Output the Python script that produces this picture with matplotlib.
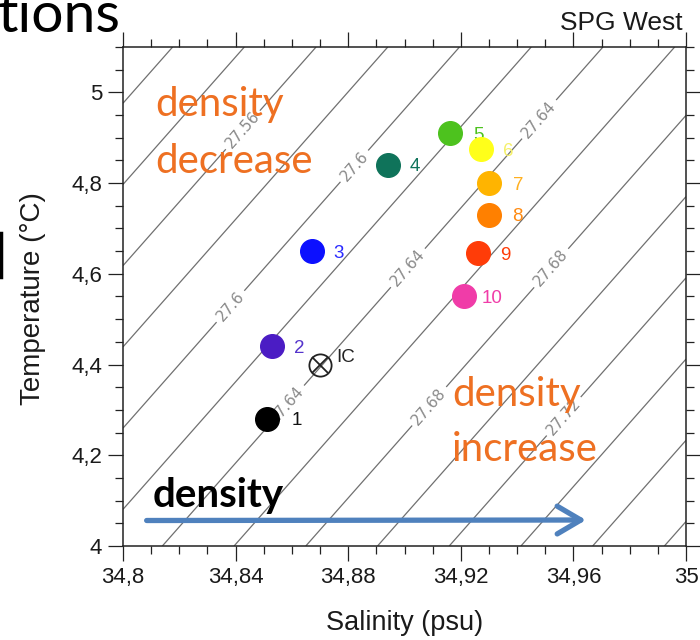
import matplotlib.pyplot as plt
import numpy as np
from matplotlib.ticker import MultipleLocator, FuncFormatter
from matplotlib.lines import Line2D

# station profiles: mean salinity / temperature
stations = ['1', '2', '3', '4', '5', '6', '7', '8', '9', '10']
salinity = [34.851, 34.853, 34.867, 34.894, 34.916, 34.927, 34.930, 34.930, 34.926, 34.921]
temperature = [4.28, 4.44, 4.65, 4.84, 4.91, 4.875, 4.80, 4.73, 4.645, 4.55]
colors = ['#000000', '#4b1cc4', '#0c10ff', '#0f735a', '#4dc21e',
          '#ffff1a', '#ffb400', '#ff8000', '#ff3c08', '#f03ca8']
label_colors = ['#111111', '#5534cc', '#2a2aff', '#0f735a', '#4dc21e',
                '#f5f06a', '#ffb020', '#ff8a10', '#ff3c08', '#f03ca8']

# initial condition
ic_sal, ic_temp = 34.870, 4.40

# isopycnals (sigma-theta), linearised around the section
iso_plain = [27.48, 27.50, 27.52, 27.54, 27.58, 27.62, 27.66, 27.70, 27.74, 27.76, 27.78]
iso_labelled = [27.56, 27.60, 27.64, 27.68, 27.72]
label_spots = [(34.8426, 4.917), (34.8380, 4.529), (34.8817, 4.840),
               (34.8583, 4.311), (34.9012, 4.613), (34.9481, 4.939),
               (34.9055, 4.326), (34.9517, 4.615), (34.9560, 4.289)]


def sigma(s, t):
    return 27.64 + 0.785 * (s - 34.9705) - 0.1117 * (t - 5.1)


def comma(v, pos):
    return f'{round(v, 3):g}'.replace('.', ',')


axfont = 'Liberation Sans'
slide_font = 'Lato'
orange = '#ee7022'

fig = plt.figure(figsize=(7, 6.4), dpi=100)
ax = fig.add_axes([123 / 700, 1 - 546 / 640, 563 / 700, 499 / 640])

ss, tt = np.meshgrid(np.linspace(34.8, 35.0, 201), np.linspace(4.0, 5.1, 201))
sig = sigma(ss, tt)
ax.contour(ss, tt, sig, levels=iso_plain, colors='#707070', linewidths=0.9, zorder=1)
cs = ax.contour(ss, tt, sig, levels=iso_labelled, colors='#707070',
                linewidths=0.9, zorder=1)
ax.clabel(cs, manual=label_spots, fmt=lambda v: f'{v:g}',
          fontsize=11, colors='#8a8a8a', inline=True, inline_spacing=4)

# label offsets in points (default 16)
offs = {'1': 18, '5': 17, '7': 17, '8': 17, '9': 16.5, '10': 13}
for i, (s, t, c, lc, name) in enumerate(zip(salinity, temperature, colors,
                                              label_colors, stations)):
    ax.plot(s, t, 'o', ms=17, mfc=c, mec=c, zorder=3 + 2 * i)
    ax.annotate(name, (s, t), xytext=(offs.get(name, 16), 0),
                textcoords='offset points', ha='left', va='center_baseline',
                color=lc, fontsize=13.5, family=axfont, zorder=4 + 2 * i)

ax.plot(ic_sal, ic_temp, 'o', ms=16, mfc='none', mec='#222222', mew=1.3, zorder=30)
ax.plot(ic_sal, ic_temp, 'x', ms=11.3, mec='#222222', mew=1.3, zorder=30)
ax.annotate('IC', (ic_sal, ic_temp), xytext=(11.5, 6.5), textcoords='offset points',
            ha='left', va='center_baseline', color='#222222', fontsize=13.5,
            family=axfont, zorder=31)

ax.set_xlim(34.8, 35.0)
ax.set_ylim(4.0, 5.1)
ax.xaxis.set_major_locator(MultipleLocator(0.04))
ax.xaxis.set_minor_locator(MultipleLocator(0.01))
ax.yaxis.set_major_locator(MultipleLocator(0.2))
ax.yaxis.set_minor_locator(MultipleLocator(0.05))
ax.xaxis.set_major_formatter(FuncFormatter(comma))
ax.yaxis.set_major_formatter(FuncFormatter(comma))
ax.tick_params(which='both', direction='out', top=True, right=True,
               labeltop=False, labelright=False, color='#222222', width=0.9)
ax.tick_params(which='major', length=11, labelsize=16, pad=4, labelcolor='#1a1a1a')
ax.tick_params(which='minor', length=6)
for lbl in ax.get_xticklabels() + ax.get_yticklabels():
    lbl.set_family(axfont)
for sp in ax.spines.values():
    sp.set_linewidth(1.1)
    sp.set_color('#222222')

ax.set_xlabel('Salinity (psu)', fontsize=19.5, family=axfont, color='#1a1a1a')
ax.set_ylabel('Temperature (°C)', fontsize=20, family=axfont, color='#1a1a1a')
ax.xaxis.set_label_coords(0.5, -0.128)
ax.yaxis.set_label_coords(-0.137, 0.495)

fig.text(683 / 700, 1 - 30 / 640, 'SPG West', ha='right', va='baseline',
         fontsize=19, family=axfont, color='#1a1a1a')

# slide annotations
ax.text(0.0568, 0.8617, 'density', transform=ax.transAxes, fontsize=29,
        family=slide_font, color=orange, va='baseline', zorder=40)
ax.text(0.0568, 0.7475, 'decrease', transform=ax.transAxes, fontsize=29,
        family=slide_font, color=orange, va='baseline', zorder=40)
ax.text(0.5844, 0.2806, 'density', transform=ax.transAxes, fontsize=29,
        family=slide_font, color=orange, va='baseline', zorder=40)
ax.text(0.5844, 0.1703, 'increase', transform=ax.transAxes, fontsize=29,
        family=slide_font, color=orange, va='baseline', zorder=40)
ax.text(0.0533, 0.078, 'density', transform=ax.transAxes, fontsize=29,
        family=slide_font, weight='bold', color='black', va='baseline', zorder=40)
ax.annotate('', xy=(0.8224, 0.0521), xytext=(0.042, 0.0511), xycoords='axes fraction',
            arrowprops=dict(arrowstyle='->,head_length=0.85,head_width=0.5',
                            lw=3.8, color='#4f81bd', mutation_scale=20,
                            shrinkA=0, shrinkB=0), zorder=40)

fig.text(-0.003, 1 - 31.7 / 640, 'tions', fontsize=41, family=slide_font,
         va='baseline', ha='left', color='black')
fig.add_artist(Line2D([1 / 700, 1 / 700], [1 - 233 / 640, 1 - 277 / 640],
                      lw=2.5, color='black'))

fig.savefig('out.png', dpi=100)
